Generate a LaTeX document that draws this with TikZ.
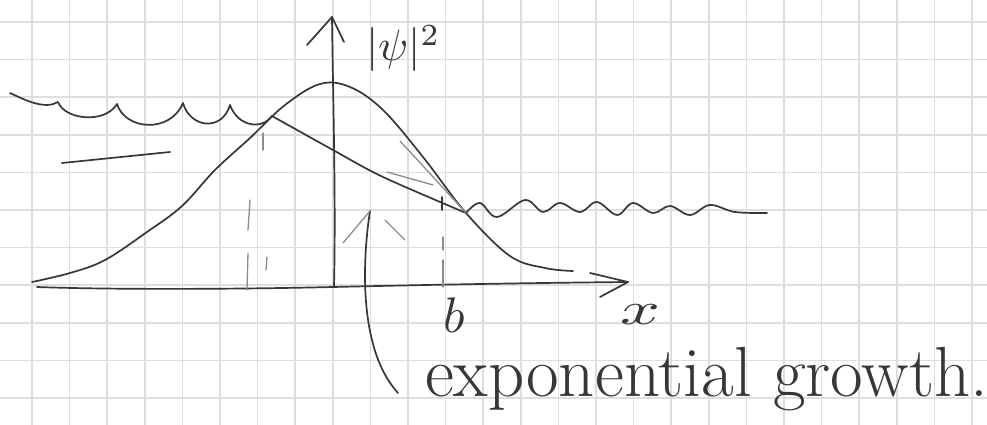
\documentclass[tikz,border=0pt]{standalone}
\usepackage{graphicx}
\definecolor{ink}{RGB}{55,55,55}
\definecolor{faint}{RGB}{140,140,140}
\definecolor{gridc}{RGB}{222,222,222}
\tikzset{
  gridline/.style={draw=gridc, line width=1.6pt},
  pencil/.style={draw=ink, line width=1.7pt, line cap=round, line join=round},
  pencillight/.style={draw=faint, line width=1.3pt, line cap=round, line join=round},
  hand/.style={text=ink, inner sep=0pt, outer sep=0pt}
}
\begin{document}
\begin{tikzpicture}[x=1pt,y=-1pt]
\useasboundingbox (0,0) rectangle (987,425);
\fill[white] (0,0) rectangle (987,425);
% grid paper
\foreach \i in {0,...,25} \draw[gridline] ({32+37.6*\i},0) -- ({32+37.6*\i},425);
\foreach \j in {0,...,10} \draw[gridline] (0,{22+37.6*\j}) -- (987,{22+37.6*\j});

% named points
\coordinate (ybot) at (334,287);
\coordinate (ytop) at (332,17);
\coordinate (ywl) at (307,45);
\coordinate (ywr) at (344,42);
\coordinate (xbeg) at (37,287);
\coordinate (xend) at (628,282);
\coordinate (xwu) at (590,273);
\coordinate (xwd) at (600,297);
\coordinate (pl) at (272,116);
\coordinate (pr) at (466,213);
\coordinate (arrtip) at (370,211);
\coordinate (arrend) at (398,393);

% axes
\draw[pencil] (ybot) .. controls (336,200) and (333,100) .. (ytop);
\draw[pencil] (ywl) -- (ytop) -- (ywr);
\draw[pencil] (xbeg) .. controls (120,290) and (250,289) .. (333,287) .. controls (420,285) and (520,283) .. (xend);
\draw[pencil] (xwu) -- (xend) -- (xwd);

% bell curve |psi|^2
\draw[pencil] plot[smooth, tension=0.6] coordinates {
  (32,282) (70,273) (105,260) (147,232) (182,206) (215,170) (250,138)
  (285,105) (320,84) (350,87) (383,110) (423,157) (pr) (510,256) (545,268) (573,271)};

% left oscillating (scalloped) wave
\draw[pencil] (10,93) .. controls (25,100) and (45,110) .. (58,102)
  .. controls (65,120) and (105,124) .. (117,104)
  .. controls (125,130) and (170,134) .. (183,103)
  .. controls (190,128) and (222,132) .. (230,105)
  .. controls (238,127) and (262,130) .. (pl);

% right oscillating wave
\draw[pencil] plot[smooth, tension=0.6] coordinates {
  (pr) (480,203) (497,217) (525,200) (543,212) (560,203) (580,212) (597,202)
  (617,215) (633,203) (653,213) (670,206) (690,215) (710,205) (735,212) (767,213)};

% connecting line between the two matching points
\draw[pencil] plot[smooth, tension=0.5] coordinates {(pl) (333,150) (383,177) (pr)};

% extra sketch strokes
\draw[pencillight] (400,141) .. controls (425,168) and (445,190) .. (pr);
\draw[pencillight] (387,172) -- (433,185);
\draw[pencil] (62,163) -- (170,152);

% dashed drops
\draw[pencillight] (263,133) -- (263,150);
\draw[pencillight] (250,200) -- (248,230);
\draw[pencillight] (248,253) -- (247,290);
\draw[pencillight] (267,257) -- (266,270);
\draw[pencil] (442,197) -- (442,210);
\draw[pencillight] (443,237) -- (443,250);
\draw[pencillight] (443,260) -- (443,287);

% arrow from the note up to the gap
\draw[pencil] (arrtip) .. controls (364,250) and (362,300) .. (372,340) .. controls (378,365) and (388,382) .. (arrend);
\draw[pencillight] (343,243) -- (arrtip);
\draw[pencillight] (385,220) -- (405,240);

% labels
\node[hand, anchor=base west] (psi) at (366,61) {\scalebox{4.4}{$|\psi|^2$}};
\node[hand, anchor=base west] (xl) at (620,324) {\scalebox{7}[4.6]{$x$}};
\node[hand, anchor=base west] (bl) at (443,332) {\scalebox{5}{$b$}};
\node[hand, anchor=base west] (growth) at (425,396) {\fontsize{71}{76}\selectfont exponential growth.};
\end{tikzpicture}
\end{document}
